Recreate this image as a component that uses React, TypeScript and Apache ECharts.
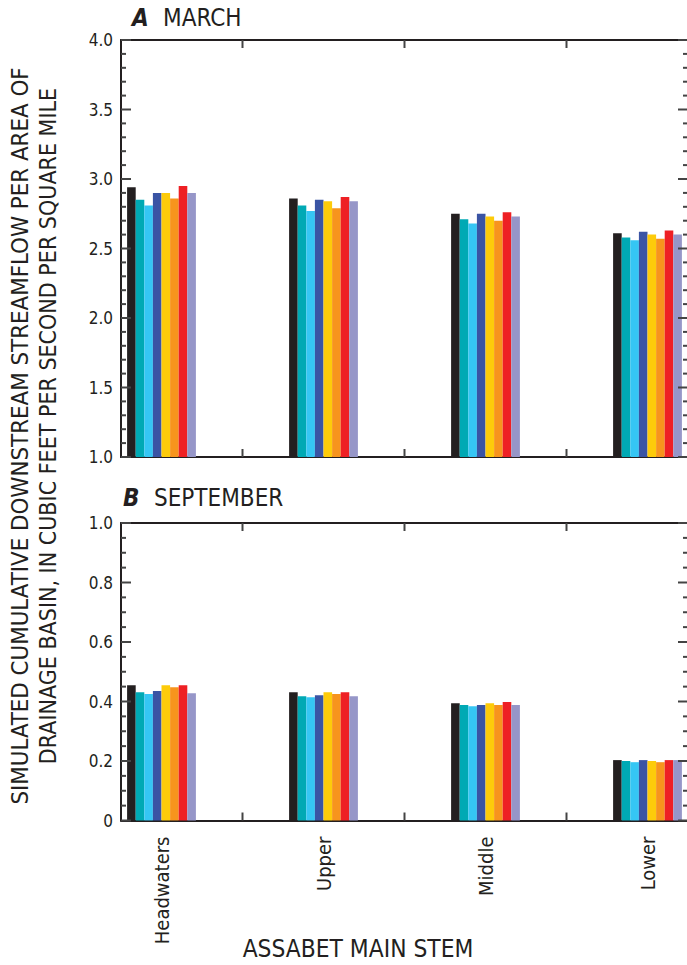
import React, { useEffect, useRef } from "react";
import * as echarts from "echarts";

const categories = ["Headwaters", "Upper", "Middle", "Lower"];
const categoryPositions = [1, 2, 3, 4];
const boundaryPositions = [1.5, 2.5, 3.5];

const seriesNames = ["Series 1", "Series 2", "Series 3", "Series 4", "Series 5", "Series 6", "Series 7", "Series 8"];
const seriesColors = ["#231f20", "#00a9b4", "#35c6f4", "#3a54a4", "#fdcb0a", "#f7941d", "#ee2024", "#9696c8"];

// Panel A — March
const march1 = [2.94, 2.86, 2.75, 2.61];
const march2 = [2.85, 2.81, 2.71, 2.58];
const march3 = [2.81, 2.77, 2.68, 2.56];
const march4 = [2.9, 2.85, 2.75, 2.62];
const march5 = [2.9, 2.84, 2.73, 2.6];
const march6 = [2.86, 2.79, 2.7, 2.57];
const march7 = [2.95, 2.87, 2.76, 2.63];
const march8 = [2.9, 2.84, 2.73, 2.6];

// Panel B — September
const sept1 = [0.455, 0.431, 0.394, 0.203];
const sept2 = [0.431, 0.418, 0.388, 0.2];
const sept3 = [0.425, 0.414, 0.384, 0.196];
const sept4 = [0.435, 0.421, 0.388, 0.203];
const sept5 = [0.455, 0.431, 0.394, 0.2];
const sept6 = [0.448, 0.425, 0.388, 0.196];
const sept7 = [0.455, 0.431, 0.398, 0.203];
const sept8 = [0.428, 0.418, 0.388, 0.203];

const marchSeries = [march1, march2, march3, march4, march5, march6, march7, march8];
const septSeries = [sept1, sept2, sept3, sept4, sept5, sept6, sept7, sept8];

const xMin = 0.75;
const xMax = 4.25;
const marchAxis = { min: 1, max: 4, interval: 0.5, minorSplit: 5 };
const septAxis = { min: 0, max: 1, interval: 0.2, minorSplit: 4 };

const FONT = '"DejaVu Sans Condensed", "Liberation Sans Narrow", sans-serif';
const INK = "#231f20";
const TICK = "#444444";

// tick kinds: 0 left major, 1 left minor, 2 right major, 3 right minor, 4 top, 5 bottom
function tickData(ax: { min: number; max: number; interval: number; minorSplit: number }) {
  const out: number[][] = [];
  const nMajor = Math.round((ax.max - ax.min) / ax.interval);
  for (let i = 0; i <= nMajor; i++) {
    const v = ax.min + i * ax.interval;
    out.push([v, 0], [v, 2]);
    if (i < nMajor) {
      for (let k = 1; k < ax.minorSplit; k++) {
        const m = v + (k * ax.interval) / ax.minorSplit;
        out.push([m, 1], [m, 3]);
      }
    }
  }
  boundaryPositions.forEach((b) => out.push([b, 4], [b, 5]));
  return out;
}

export default function App() {
  const ref = useRef<HTMLDivElement>(null);
  useEffect(() => {
    if (!ref.current) return;
    const chart = echarts.init(ref.current, undefined, { renderer: "svg" });

    const xAxisBase = (gridIndex: number, position: "top" | "bottom", labels: boolean) => ({
      type: "value",
      gridIndex,
      position,
      min: xMin,
      max: xMax,
      axisLine: { show: true, onZero: false, lineStyle: { color: INK, width: 2 } },
      axisTick: { show: false },
      minorTick: { show: false },
      axisLabel: labels
        ? {
            show: true,
            customValues: categoryPositions,
            rotate: 90,
            margin: 16,
            fontSize: 20,
            fontFamily: FONT,
            color: INK,
            formatter: (v: number) => categories[Math.round(v) - 1] ?? "",
          }
        : { show: false },
      splitLine: { show: false },
    });
    const yAxisBase = (
      gridIndex: number,
      position: "left" | "right",
      ax: { min: number; max: number; interval: number },
      labels: boolean
    ) => ({
      type: "value",
      gridIndex,
      position,
      min: ax.min,
      max: ax.max,
      interval: ax.interval,
      axisLine: { show: true, onZero: false, lineStyle: { color: INK, width: 2 } },
      axisTick: { show: false },
      minorTick: { show: false },
      axisLabel: {
        show: labels,
        margin: 8,
        fontSize: 17,
        fontFamily: FONT,
        color: INK,
        formatter: (v: number) => (v === 0 ? "0" : v.toFixed(1)),
      },
      splitLine: { show: false },
      minorSplitLine: { show: false },
    });

    const makeSeries = (data: number[][], axisIdx: number) =>
      data.map((vals, i) => ({
        type: "bar",
        name: seriesNames[i],
        xAxisIndex: axisIdx,
        yAxisIndex: axisIdx,
        barWidth: 8.6,
        barGap: "0%",
        itemStyle: { color: seriesColors[i] },
        data: vals.map((v, j) => [categoryPositions[j], v]),
      }));

    const tickSeries = (axisIdx: number, ax: { min: number; max: number; interval: number; minorSplit: number }) => ({
      type: "custom",
      coordinateSystem: "cartesian2d",
      xAxisIndex: axisIdx,
      yAxisIndex: axisIdx,
      silent: true,
      z: 5,
      data: tickData(ax),
      renderItem: (_params: any, api: any) => {
        const v = api.value(0);
        const kind = api.value(1);
        let x1 = 0, y1 = 0, x2 = 0, y2 = 0;
        if (kind <= 3) {
          const right = kind >= 2;
          const len = kind % 2 === 0 ? 10 : 5;
          const p = api.coord([right ? xMax : xMin, v]);
          x1 = p[0];
          y1 = p[1];
          x2 = right ? p[0] - len : p[0] + len;
          y2 = p[1];
        } else {
          const top = kind === 4;
          const p = api.coord([v, top ? ax.max : ax.min]);
          x1 = p[0];
          y1 = p[1];
          x2 = p[0];
          y2 = top ? p[1] + 8 : p[1] - 8;
        }
        return {
          type: "line",
          shape: { x1, y1, x2, y2 },
          style: { stroke: TICK, lineWidth: 2 },
        };
      },
    });

    const titleText = (x: number, y: number, text: string, bold: boolean) => ({
      type: "text",
      x,
      y,
      style: {
        text,
        fill: INK,
        font: `${bold ? "italic bold " : ""}24px ${FONT}`,
        verticalAlign: "middle",
        align: "left",
      },
    });

    chart.setOption({
      animation: false,
      grid: [
        { left: 121, right: 12, top: 40, height: 417 },
        { left: 121, right: 12, top: 523, height: 297.5 },
      ],
      xAxis: [
        xAxisBase(0, "bottom", false),
        xAxisBase(0, "top", false),
        xAxisBase(1, "bottom", true),
        xAxisBase(1, "top", false),
      ],
      yAxis: [
        yAxisBase(0, "left", marchAxis, true),
        yAxisBase(0, "right", marchAxis, false),
        yAxisBase(1, "left", septAxis, true),
        yAxisBase(1, "right", septAxis, false),
      ],
      series: [
        ...makeSeries(marchSeries, 0),
        ...makeSeries(septSeries, 2),
        tickSeries(0, marchAxis),
        tickSeries(2, septAxis),
      ],
      graphic: [
        titleText(132, 18, "A", true),
        titleText(163, 18, "MARCH", false),
        titleText(123, 498, "B", true),
        titleText(154, 498, "SEPTEMBER", false),
        {
          type: "text",
          x: 20,
          y: 436,
          rotation: Math.PI / 2,
          style: {
            text: "SIMULATED CUMULATIVE DOWNSTREAM STREAMFLOW PER AREA OF",
            fill: INK,
            font: `23.8px ${FONT}`,
            align: "center",
            verticalAlign: "middle",
          },
        },
        {
          type: "text",
          x: 48,
          y: 426,
          rotation: Math.PI / 2,
          style: {
            text: "DRAINAGE BASIN, IN CUBIC FEET PER SECOND PER SQUARE MILE",
            fill: INK,
            font: `23px ${FONT}`,
            align: "center",
            verticalAlign: "middle",
          },
        },
        {
          type: "text",
          x: 358,
          y: 948,
          style: {
            text: "ASSABET MAIN STEM",
            fill: INK,
            font: `24.3px ${FONT}`,
            align: "center",
            verticalAlign: "middle",
          },
        },
      ],
    });
    return () => chart.dispose();
  }, []);

  return (
    <div style={{ position: "fixed", left: 0, top: 0, width: 687, height: 965, overflow: "hidden", background: "#fff" }}>
      <div ref={ref} style={{ width: 700, height: 965 }} />
    </div>
  );
}
